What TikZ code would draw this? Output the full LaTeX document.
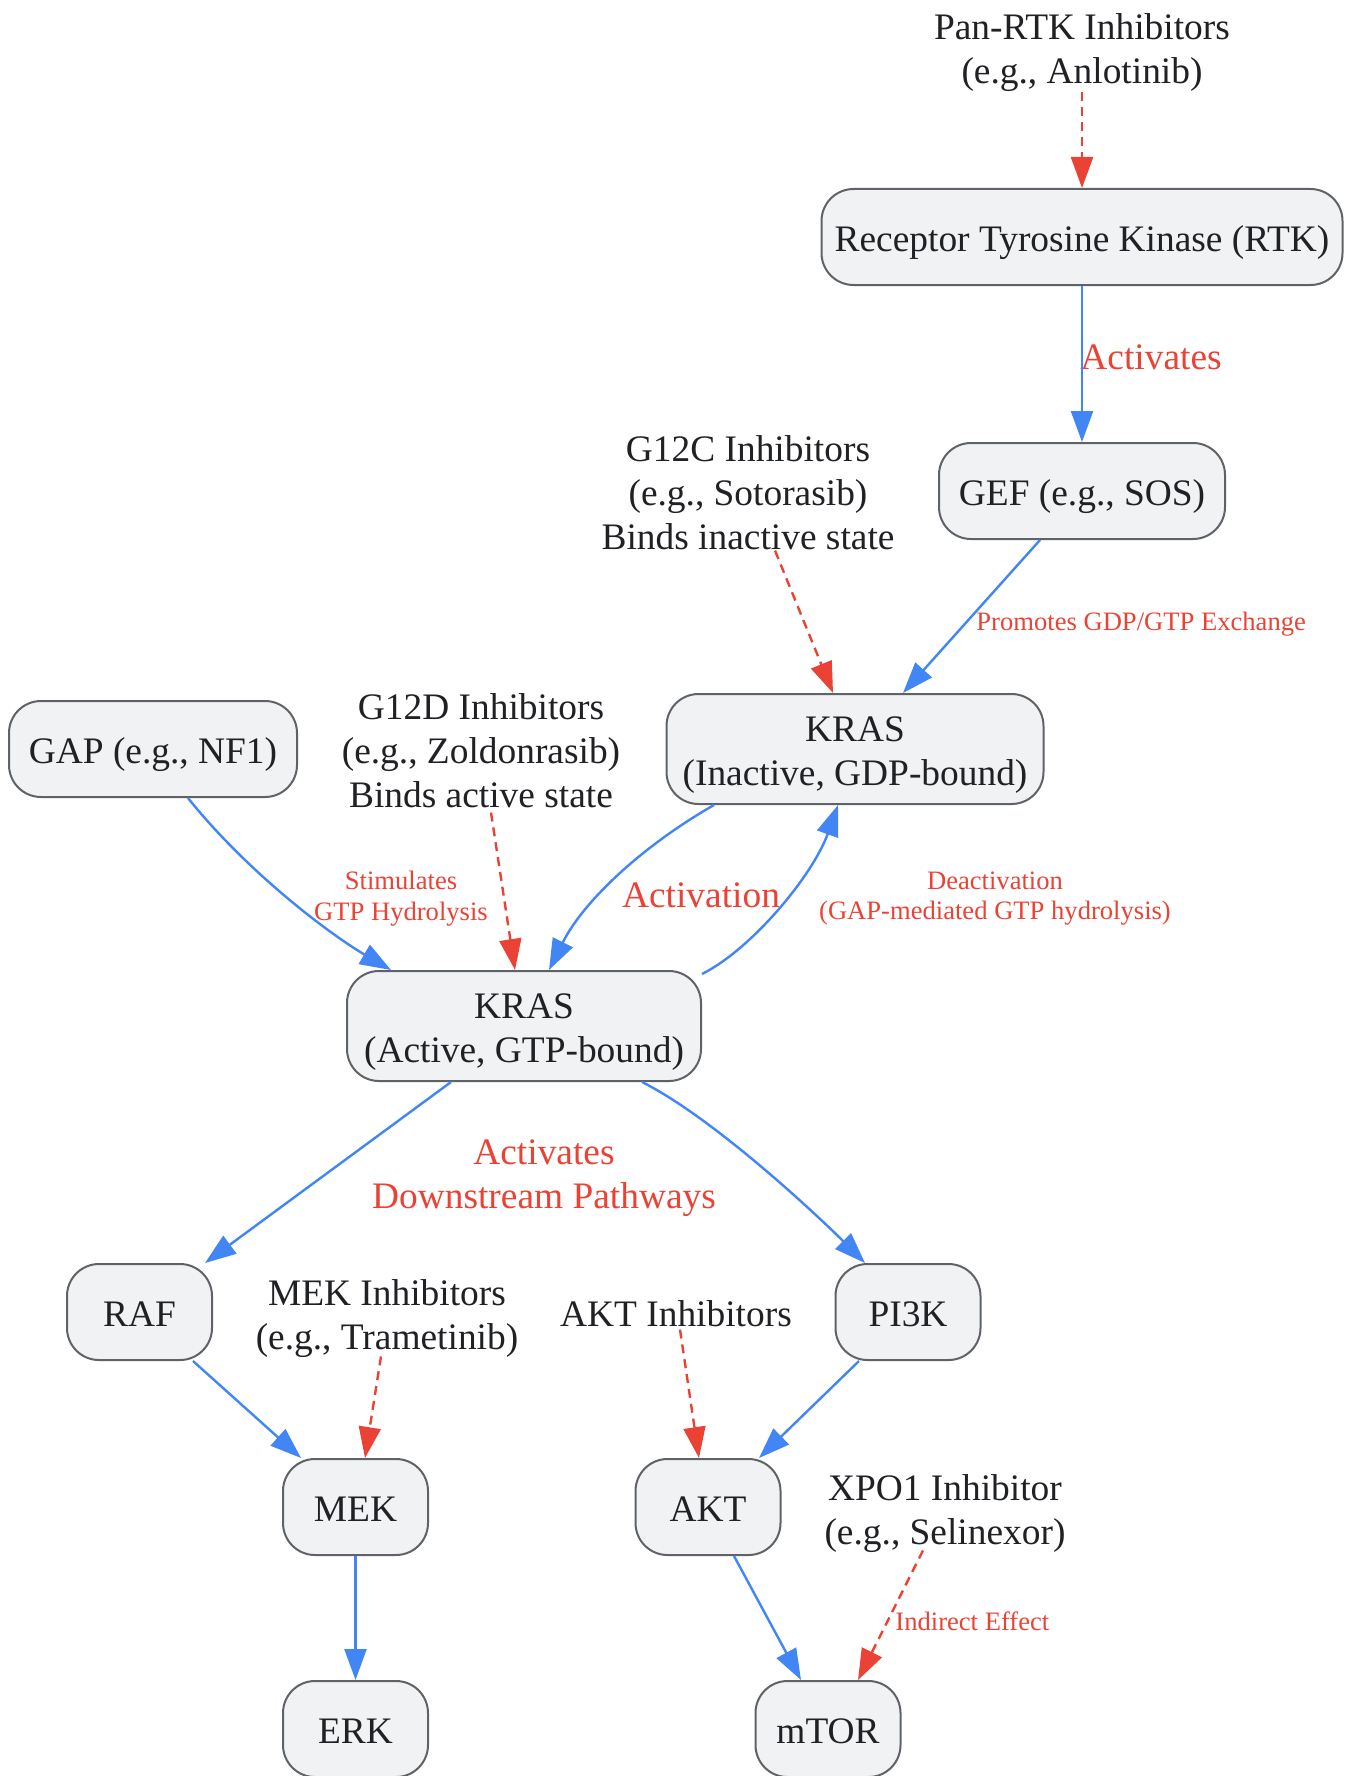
\documentclass[tikz,border=0pt]{standalone}
\usepackage{fontspec}
\setmainfont{Liberation Serif}
\usetikzlibrary{arrows.meta}
\definecolor{boxfill}{HTML}{F1F2F4}
\definecolor{boxline}{HTML}{5F6368}
\definecolor{blueline}{HTML}{4285F4}
\definecolor{redline}{HTML}{EA4335}
\definecolor{txt}{HTML}{202124}
\newcommand\mainfs{\fontsize{18.7}{22}\selectfont}
\newcommand\smallfs{\fontsize{13.3}{15.3}\selectfont}
\newcommand\topstrut{\rule{0pt}{18pt}}
\begin{document}
\begin{tikzpicture}[x=0.5pt,y=-0.5pt,
 box/.style={draw=boxline, fill=boxfill, line width=1pt, rounded corners=16pt, inner sep=0pt, align=center, text=txt, font=\mainfs},
 onebox/.style={box, text height=17.4pt, text depth=3pt},
 lbl/.style={inner sep=0pt, align=center, text=txt, font=\mainfs},
 elbl/.style={inner sep=0pt, align=center, text=redline, font=\mainfs},
 slbl/.style={inner sep=0pt, align=center, text=redline, font=\smallfs},
 act/.style={draw=blueline, line width=1.2pt, -{Triangle[length=15.5pt,width=11pt]}},
 inh/.style={draw=redline, line width=1.2pt, dash pattern=on 4.5pt off 3pt, -{Triangle[length=15.5pt,width=11pt]}},
]
\useasboundingbox (0,0) rectangle (1348,1776);

% boxes
\node[onebox, minimum width=260.5pt, minimum height=48pt] (rtk) at (1082,237) {Receptor Tyrosine Kinase (RTK)};
\node[onebox, minimum width=143pt, minimum height=48pt] (gef) at (1082,491) {GEF (e.g., SOS)};
\node[box, minimum width=188.5pt, minimum height=55pt] (kin) at (855,749) {\topstrut KRAS\\(Inactive, GDP-bound)};
\node[onebox, minimum width=144pt, minimum height=48pt] (gap) at (153,749) {GAP (e.g., NF1)};
\node[box, minimum width=177pt, minimum height=55pt] (kact) at (524,1026) {\topstrut KRAS\\(Active, GTP-bound)};
\node[onebox, minimum width=72.5pt, minimum height=48pt] (raf) at (139.5,1312) {RAF};
\node[onebox, minimum width=72.5pt, minimum height=48pt] (pik) at (908,1312) {PI3K};
\node[onebox, minimum width=72.5pt, minimum height=48pt] (mek) at (355.5,1507) {MEK};
\node[onebox, minimum width=72.5pt, minimum height=48pt] (akt) at (708,1507) {AKT};
\node[onebox, minimum width=72.5pt, minimum height=48pt] (erk) at (355.5,1729) {ERK};
\node[onebox, minimum width=72.5pt, minimum height=48pt] (mtor) at (828,1729) {mTOR};

% inhibitor labels
\node[lbl] (pan) at (1082,52.5) {Pan-RTK Inhibitors\\(e.g., Anlotinib)};
\node[lbl] (g12c) at (748,493) {G12C Inhibitors\\(e.g., Sotorasib)\\Binds inactive state};
\node[lbl] (g12d) at (481,751) {G12D Inhibitors\\(e.g., Zoldonrasib)\\Binds active state};
\node[lbl] (mekinh) at (387,1318.5) {MEK Inhibitors\\(e.g., Trametinib)};
\node[lbl] (aktinh) at (676,1314) {AKT Inhibitors};
\node[lbl] (xpo) at (945,1513.5) {XPO1 Inhibitor\\(e.g., Selinexor)};

% edge labels
\node[elbl, anchor=west] (l1) at (1080,357) {Activates};
\node[slbl, anchor=west] (l2) at (976,624) {Promotes GDP/GTP Exchange};
\node[slbl] (l3) at (401,898.4) {Stimulates\\GTP Hydrolysis};
\node[elbl] (l4) at (701,895) {Activation};
\node[slbl] (l5) at (995,898.4) {Deactivation\\(GAP-mediated GTP hydrolysis)};
\node[elbl] (l6) at (544,1178.5) {Activates\\Downstream Pathways};
\node[slbl, anchor=west] (l7) at (895,1621) {Indirect Effect};

% activation connectors
\draw[act] (rtk.south) -- (gef.north);
\draw[act] ([xshift=-21pt]gef.south) -- ([xshift=24pt]kin.north);
\draw[act] ([xshift=17.5pt]gap.south) .. controls +(60,75) and +(-60,-35) .. ([xshift=-66.5pt]kact.north);
\draw[act] ([xshift=-70.5pt]kin.south) .. controls +(-70,40) and +(35,-70) .. ([xshift=12.5pt]kact.north);
\draw[act] ([yshift=-2pt]kact.north east) .. controls +(50,-25) and +(-25,70) .. ([xshift=-8.5pt]kin.south);
\draw[act] ([xshift=-36.5pt]kact.south) -- ([xshift=32.75pt]raf.north);
\draw[act] ([xshift=59pt]kact.south) .. controls +(70,35) and +(-50,-50) .. ([xshift=-21.5pt]pik.north);
\draw[act] ([xshift=26.75pt]raf.south) -- ([xshift=-27.25pt]mek.north);
\draw[act] (mek.south) -- (erk.north);
\draw[act] ([xshift=-24.5pt]pik.south) -- ([xshift=25.5pt]akt.north);
\draw[act] ([xshift=13pt]akt.south) -- ([xshift=-13.5pt]mtor.north);

% inhibition connectors
\draw[inh] (pan.south) -- (rtk.north);
\draw[inh] ([xshift=13.5pt]g12c.south) -- ([xshift=-11pt]kin.north);
\draw[inh] ([xshift=5pt,yshift=-2pt]g12d.south) -- ([xshift=-4.5pt]kact.north);
\draw[inh] ([xshift=-3pt,yshift=0.75pt]mekinh.south) -- ([xshift=4.75pt]mek.north);
\draw[inh] ([xshift=2pt,yshift=-1pt]aktinh.south) -- ([xshift=-4.5pt]akt.north);
\draw[inh] ([xshift=-11pt,yshift=1.25pt]xpo.south) -- ([xshift=15pt]mtor.north);
\end{tikzpicture}
\end{document}
